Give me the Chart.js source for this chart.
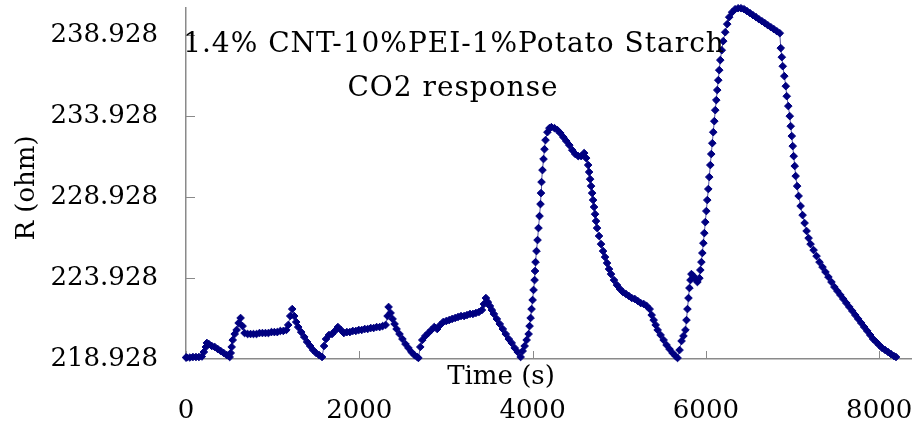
<!DOCTYPE html>
<html>
<head>
<meta charset="utf-8">
<title>CO2 response</title>
<script src="https://cdn.jsdelivr.net/npm/chart.js@4.4.1/dist/chart.umd.min.js"></script>
<style>
    html, body { margin: 0; padding: 0; background: #fff; }
    canvas { display: block; }
</style>
</head>
<body>
<canvas id="chartCO2" width="916" height="429"></canvas>
<script>
// time in seconds, one line per stretch of the run
const timeS = [
    0, 11, 46, 80, 115, 149, 183, 206, 229, 241,
    264, 298, 332, 367, 401, 435, 470, 504,
    516, 527, 539, 562, 584, 607, 630, 653, 676,
    711, 745, 779, 814, 848, 882, 917, 951, 986, 1020, 1054, 1089, 1123, 1158,
    1180, 1203, 1226, 1249, 1272, 1295, 1329, 1364, 1398, 1433, 1467, 1501, 1536, 1570,
    1593, 1616, 1650, 1685, 1719, 1753, 1788, 1822, 1857, 1891, 1925, 1960, 1994, 2028, 2063, 2097, 2132, 2166, 2200, 2235, 2269, 2304,
    2326, 2338, 2361, 2384, 2407, 2430, 2464, 2498, 2533, 2567, 2601, 2636, 2670, 2682,
    2704, 2727, 2762, 2796, 2831, 2865, 2899, 2934, 2968, 3003, 3037, 3071, 3106, 3140, 3174, 3209, 3243, 3278, 3312, 3346, 3381, 3415,
    3438, 3461, 3484, 3507, 3530, 3553, 3587, 3621, 3656, 3690, 3725, 3759, 3793, 3828, 3862,
    3885, 3908, 3931, 3954, 3965, 3977, 3988, 4000, 4011, 4023, 4028, 4034, 4045, 4057, 4068, 4080, 4091, 4097, 4103, 4114, 4126, 4137, 4149, 4171, 4194, 4217,
    4252, 4286, 4320, 4355, 4389, 4424, 4458, 4492, 4527, 4561, 4595, 4618, 4641, 4652, 4664, 4675, 4687, 4698, 4709, 4721, 4732, 4744,
    4767, 4790, 4813, 4836, 4859, 4882, 4905, 4939, 4974, 5008, 5042, 5077, 5111, 5145, 5180, 5214, 5248, 5283, 5317, 5351,
    5374, 5397, 5420, 5443, 5477, 5512, 5546, 5580, 5615, 5649, 5673,
    5696, 5719, 5741, 5764, 5776, 5787, 5799, 5810, 5822, 5833, 5856, 5879, 5902, 5925,
    5936, 5948, 5959, 5971, 5982, 5993, 6005, 6016, 6028, 6039, 6051, 6062, 6074, 6085, 6097, 6108, 6120, 6131, 6143, 6154, 6166, 6183, 6200, 6223, 6246, 6269, 6303, 6337,
    6372, 6406, 6441, 6475, 6509, 6544, 6578, 6612, 6647, 6681, 6715, 6750, 6784, 6819, 6853,
    6864, 6876, 6887, 6905, 6922, 6933, 6951, 6968, 6979, 6991, 7002, 7013, 7025, 7036, 7053, 7070, 7093, 7116, 7139, 7162, 7185, 7208,
    7243, 7277, 7311, 7346, 7380, 7414, 7449, 7483, 7518, 7552, 7586, 7621, 7655, 7690, 7724, 7758, 7793, 7827, 7862, 7896, 7930, 7965, 7999, 8033, 8068, 8102, 8136, 8171, 8194
];

// resistance in ohm, same layout as timeS
const resistance = [
    219.02, 219.02, 219.02, 219.05, 219.05, 219.05, 219.08, 219.36, 219.67, 219.92,
    219.85, 219.73, 219.67, 219.54, 219.42, 219.30, 219.17, 219.05,
    219.30, 219.67, 220.10, 220.47, 220.72, 221.15, 221.46, 220.96, 220.53,
    220.47, 220.47, 220.47, 220.47, 220.53, 220.53, 220.53, 220.53, 220.59, 220.59, 220.59, 220.66, 220.66, 220.72,
    221.03, 221.58, 222.01, 221.58, 221.21, 220.90, 220.59, 220.29, 219.98, 219.73, 219.48, 219.30, 219.17, 219.05,
    219.73, 220.16, 220.41, 220.47, 220.66, 220.90, 220.72, 220.53, 220.59, 220.59, 220.66, 220.66, 220.72, 220.72, 220.78, 220.78, 220.84, 220.84, 220.90, 220.90, 220.96, 221.03,
    221.58, 222.14, 221.77, 221.40, 221.09, 220.78, 220.47, 220.16, 219.85, 219.61, 219.36, 219.17, 219.05, 218.99,
    219.67, 220.10, 220.35, 220.53, 220.72, 220.90, 220.78, 221.03, 221.21, 221.27, 221.33, 221.40, 221.46, 221.52, 221.58, 221.58, 221.64, 221.71, 221.71, 221.77, 221.83, 221.95,
    222.32, 222.69, 222.44, 222.20, 221.95, 221.71, 221.40, 221.09, 220.78, 220.47, 220.16, 219.92, 219.61, 219.36, 219.05,
    219.42, 219.73, 220.10, 220.47, 220.96, 221.46, 222.01, 222.57, 223.19, 223.80, 224.36, 224.91, 225.59, 226.27, 227.01, 227.75, 228.49, 229.17, 229.85, 230.59, 231.27, 231.88, 232.44, 232.93, 233.18, 233.24,
    233.18, 233.06, 232.87, 232.62, 232.38, 232.13, 231.82, 231.58, 231.45, 231.45, 231.64, 231.33, 230.90, 230.47, 230.03, 229.60, 229.17, 228.74, 228.31, 227.87, 227.44, 227.01,
    226.52, 226.02, 225.59, 225.22, 224.85, 224.48, 224.17, 223.80, 223.49, 223.25, 223.06, 222.94, 222.82, 222.69, 222.63, 222.51, 222.38, 222.32, 222.20, 222.01,
    221.64, 221.33, 221.03, 220.72, 220.41, 220.10, 219.79, 219.54, 219.30, 219.11, 218.99,
    219.48, 220.04, 220.35, 220.72, 221.33, 222.01, 222.69, 223.31, 223.80, 224.17, 224.05, 223.86, 223.68, 223.92,
    224.42, 224.91, 225.47, 226.08, 226.70, 227.38, 228.06, 228.74, 229.42, 230.16, 230.90, 231.58, 232.25, 232.93, 233.61, 234.29, 234.91, 235.53, 236.14, 236.76, 237.38, 237.99, 238.55, 239.10, 239.60, 240.03, 240.34, 240.52,
    240.58, 240.58, 240.52, 240.40, 240.28, 240.15, 240.03, 239.90, 239.78, 239.66, 239.53, 239.41, 239.29, 239.16, 239.04,
    238.12, 237.56, 237.00, 236.39, 235.77, 235.15, 234.54, 233.92, 233.30, 232.69, 232.07, 231.45, 230.84, 230.22, 229.60, 228.99, 228.37, 227.81, 227.32, 226.83, 226.39, 226.02,
    225.65, 225.28, 224.91, 224.60, 224.30, 223.99, 223.68, 223.37, 223.12, 222.88, 222.63, 222.38, 222.14, 221.89, 221.64, 221.40, 221.15, 220.90, 220.66, 220.41, 220.16, 219.98, 219.79, 219.61, 219.48, 219.36, 219.23, 219.11, 219.05
];

const xTicks = [0, 2000, 4000, 6000, 8000];
const yTicks = [218.928, 223.928, 228.928, 233.928, 238.928];

const titleLines = ['1.4% CNT-10%PEI-1%Potato Starch', 'CO2 response'];
const xTitle = 'Time (s)';
const yTitle = 'R (ohm)';

const axisColor = '#8a8a8a';
const markColor = '#000080';
const fontFamily = '"DejaVu Serif", "Liberation Serif", serif';

Chart.defaults.font.family = fontFamily;
Chart.defaults.color = '#000';

// inward tick marks, chart title and axis titles
const decorations = {
    id: 'decorations',
    beforeDatasetsDraw(chart) {
        const { ctx, chartArea, scales } = chart;
        ctx.save();
        ctx.strokeStyle = axisColor;
        ctx.lineWidth = 1;
        ctx.beginPath();
        xTicks.forEach(v => {
            const px = Math.round(scales.x.getPixelForValue(v)) + 0.5;
            ctx.moveTo(px, chartArea.bottom);
            ctx.lineTo(px, chartArea.bottom - 8);
        });
        yTicks.forEach(v => {
            const py = Math.round(scales.y.getPixelForValue(v)) + 0.5;
            ctx.moveTo(chartArea.left, py);
            ctx.lineTo(chartArea.left + 9, py);
        });
        ctx.stroke();
        ctx.restore();
    },
    afterDraw(chart) {
        const { ctx, chartArea } = chart;
        ctx.save();
        ctx.fillStyle = '#000';
        ctx.textAlign = 'center';
        ctx.textBaseline = 'middle';

        ctx.font = '28px ' + fontFamily;
        ctx.letterSpacing = '1px';
        ctx.fillText(titleLines[0], chartArea.left + 268, 45);
        ctx.fillText(titleLines[1], chartArea.left + 267, 89);
        ctx.letterSpacing = '0px';

        ctx.font = '26px ' + fontFamily;
        ctx.fillText(xTitle, chartArea.left + 315, chartArea.bottom + 18);

        ctx.translate(27, 188);
        ctx.rotate(-Math.PI / 2);
        ctx.fillText(yTitle, 0, 0);
        ctx.restore();
    }
};

const ctx = document.getElementById('chartCO2').getContext('2d');

new Chart(ctx, {
    type: 'line',
    data: {
        datasets: [{
            label: 'R',
            data: timeS.map((t, i) => ({ x: t, y: resistance[i] })),
            borderColor: 'rgba(30,30,130,0.75)',
            borderWidth: 1,
            pointStyle: 'rectRot',
            pointRadius: 3.8,
            pointBorderWidth: 1,
            pointBackgroundColor: markColor,
            pointBorderColor: markColor,
            tension: 0,
            clip: false
        }]
    },
    options: {
        responsive: false,
        animation: false,
        layout: { padding: { top: 8, left: 0, right: 0, bottom: 0 } },
        plugins: {
            legend: { display: false },
            tooltip: { enabled: false }
        },
        scales: {
            x: {
                type: 'linear',
                min: 0,
                max: 8367,
                grid: { display: false, drawTicks: false },
                border: { display: true, color: axisColor, width: 1.5 },
                afterBuildTicks: scale => { scale.ticks = xTicks.map(v => ({ value: v })); },
                afterFit: scale => {
                    scale.height = 70;
                    scale.paddingLeft = 0;
                    scale.paddingRight = 0;
                },
                ticks: {
                    autoSkip: false,
                    maxRotation: 0,
                    padding: 37,
                    font: { size: 26 },
                    callback: v => String(v)
                }
            },
            y: {
                min: 218.928,
                max: 240.595,
                grid: { display: false, drawTicks: false },
                border: { display: true, color: axisColor, width: 1.5 },
                afterBuildTicks: scale => { scale.ticks = yTicks.map(v => ({ value: v })); },
                afterFit: scale => {
                    scale.width = 186;
                    scale.paddingTop = 0;
                    scale.paddingBottom = 0;
                },
                ticks: {
                    padding: 28,
                    font: { size: 26 },
                    callback: v => v.toFixed(3)
                }
            }
        }
    },
    plugins: [decorations]
});
</script>
</body>
</html>
